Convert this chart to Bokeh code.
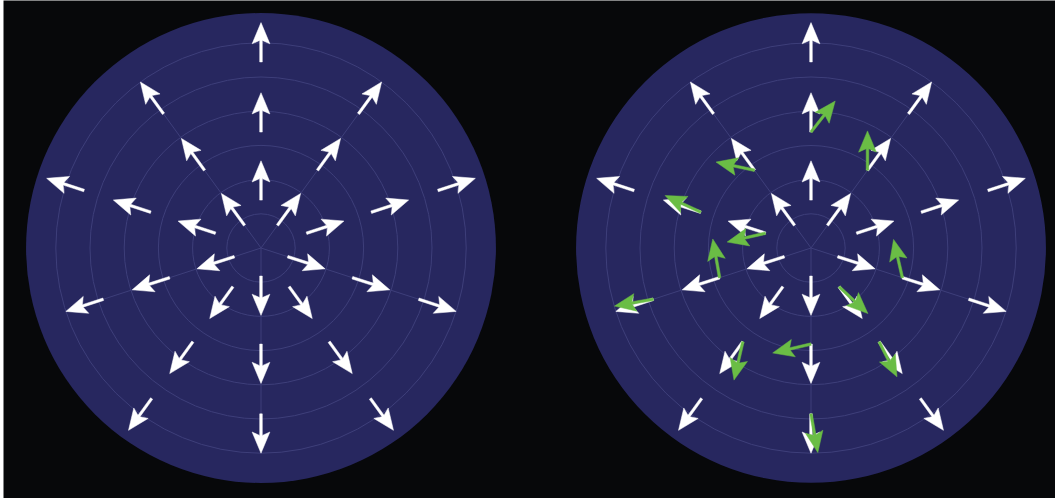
import math
from bokeh.plotting import figure
from bokeh.models import Range1d, Spacer
from bokeh.layouts import row
from bokeh.embed import file_html
from bokeh.resources import INLINE

# ---------------- data ----------------
# polar grid
ring_radii = [1, 2, 3, 4, 5, 6]
disk_radius = 6.87
spoke_angles = [270, 342, 54, 126, 198]

# white (radial) arrows: two groups of directions, three arrows each
dirs_a = [90, 18, 306, 234, 162]
tails_a = [1.40, 3.39, 5.44]
dirs_b = [54, 342, 270, 198, 126]
tails_b = [0.82, 2.81, 4.85]
arrow_length = 1.15

# green (perturbed) arrows in the right panel: direction of host arrow,
# ring index of host arrow (0 inner, 1 middle, 2 outer), new angle
green_dir = [90, 54, 126, 162, 162, 198, 198, 342, 306, 306, 270, 270, 234]
green_ring = [1, 1, 1, 0, 1, 1, 2, 1, 0, 1, 1, 2, 1]
green_angle = [52, 90, 168, 193, 155, 100, 190, 103, 317, 297, 193, 280, 257]

# ---------------- layout ----------------
S = 34.2  # px per radial unit
W, H = 1052, 498
centers = [(257.5 / S, (H - 247.5) / S), (807.5 / S, (H - 247.5) / S)]

BG = "#07080a"
DISK = "#27275f"
GRID = "#3e3f7a"
WHITE = "#ffffff"
GREEN = "#6abd45"

p = figure(width=W, height=H, x_range=Range1d(0, W / S), y_range=Range1d(0, H / S),
           output_backend="svg", toolbar_location=None, min_border=0,
           x_axis_type=None, y_axis_type=None,
           background_fill_color=BG, border_fill_color=BG, outline_line_color=None)
p.grid.visible = False


def tail_radius(direction, ring):
    if direction in dirs_a:
        return tails_a[ring]
    return tails_b[ring]


def arrow_poly(x0, y0, ang, L=arrow_length, h=0.62, hw=0.26, n=0.10, sw=0.038):
    ux, uy = math.cos(math.radians(ang)), math.sin(math.radians(ang))
    px, py = -uy, ux
    local = [(0, sw), (L - h + n, sw), (L - h, hw), (L, 0),
             (L - h, -hw), (L - h + n, -sw), (0, -sw)]
    xs = [x0 + a * ux + b * px for a, b in local]
    ys = [y0 + a * uy + b * py for a, b in local]
    return xs, ys


for k, (cx, cy) in enumerate(centers):
    # disk
    p.circle(x=[cx], y=[cy], radius=disk_radius, fill_color=DISK, line_color=None)
    # rings
    p.circle(x=[cx] * len(ring_radii), y=[cy] * len(ring_radii), radius=ring_radii,
             fill_color=None, line_color=GRID, line_width=1)
    # spokes
    p.segment(x0=[cx] * len(spoke_angles), y0=[cy] * len(spoke_angles),
              x1=[cx + 6 * math.cos(math.radians(a)) for a in spoke_angles],
              y1=[cy + 6 * math.sin(math.radians(a)) for a in spoke_angles],
              line_color=GRID, line_width=1)

    # white arrows
    wxs, wys = [], []
    for dirs, tails in ((dirs_a, tails_a), (dirs_b, tails_b)):
        for d in dirs:
            for r in tails:
                x0 = cx + r * math.cos(math.radians(d))
                y0 = cy + r * math.sin(math.radians(d))
                xs, ys = arrow_poly(x0, y0, d)
                wxs.append(xs)
                wys.append(ys)
    p.patches(xs=wxs, ys=wys, fill_color=WHITE, line_color=WHITE, line_width=0.5)

    if k == 1:
        gxs, gys = [], []
        for d, ring, ga in zip(green_dir, green_ring, green_angle):
            r = tail_radius(d, ring)
            x0 = cx + r * math.cos(math.radians(d))
            y0 = cy + r * math.sin(math.radians(d))
            xs, ys = arrow_poly(x0, y0, ga)
            gxs.append(xs)
            gys.append(ys)
        p.patches(xs=gxs, ys=gys, fill_color=GREEN, line_color=GREEN, line_width=0.5)

layout = row(Spacer(width=3, height=H), p)
open("out.html", "w").write(file_html(layout, INLINE))
